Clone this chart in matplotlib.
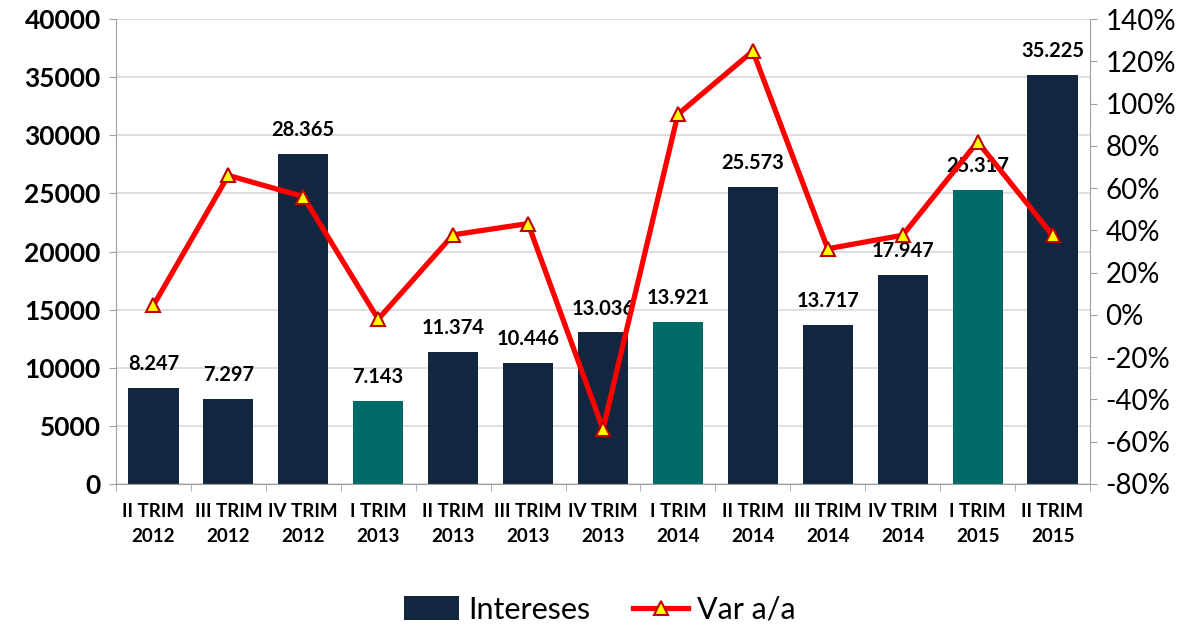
import numpy as np
import matplotlib
matplotlib.use("Agg")
import matplotlib.pyplot as plt
from matplotlib.ticker import FuncFormatter

plt.rcParams["font.family"] = ["Lato", "DejaVu Sans"]

# data
categories = ["II TRIM\n2012", "III TRIM\n2012", "IV TRIM\n2012", "I TRIM\n2013",
              "II TRIM\n2013", "III TRIM\n2013", "IV TRIM\n2013", "I TRIM\n2014",
              "II TRIM\n2014", "III TRIM\n2014", "IV TRIM\n2014", "I TRIM\n2015",
              "II TRIM\n2015"]
intereses = [8247, 7297, 28365, 7143, 11374, 10446, 13036, 13921, 25573, 13717, 17947, 25317, 35225]
bar_labels = ["8.247", "7.297", "28.365", "7.143", "11.374", "10.446", "13.036", "13.921",
              "25.573", "13.717", "17.947", "25.317", "35.225"]
var_aa = [4.5, 66, 56, -2, 37.9, 43.2, -54.0, 94.9, 124.8, 31.3, 37.7, 81.9, 37.7]

NAVY = "#13263f"
TEAL = "#006a66"
colors = [TEAL if c.startswith("I TRIM") else NAVY for c in categories]

fig = plt.figure(figsize=(11.88, 6.25), dpi=100)
ax = fig.add_axes([0.0976, 0.2256, 0.8199, 0.744])
x = np.arange(len(categories))

bars = ax.bar(x, intereses, width=0.67, color=colors, zorder=2, label="Intereses")
ax.set_ylim(0, 40000)
ax.set_xlim(-0.5, len(categories) - 0.5)
ax.set_yticks(np.arange(0, 40001, 5000))
ax.yaxis.grid(True, color="#d9d9d9", linewidth=1.2, zorder=0)
ax.set_axisbelow(True)
ax.set_xticks(x)
ax.set_xticks(np.arange(-0.5, len(categories), 1), minor=True)
ax.set_xticklabels(categories, fontsize=13.5, fontweight="bold", linespacing=1.55)
ax.tick_params(axis="x", which="major", length=0, pad=14)
ax.tick_params(axis="x", which="minor", length=5, color="#a0a0a0")
ax.tick_params(axis="y", labelsize=19, length=5, color="#a0a0a0", pad=6)
for lbl in ax.get_yticklabels():
    lbl.set_fontweight("bold")
for side in ["top", "right"]:
    ax.spines[side].set_visible(False)
ax.spines["left"].set_color("#a0a0a0")
ax.spines["bottom"].set_color("#a0a0a0")

for xi, h, t in zip(x, intereses, bar_labels):
    ax.text(xi, h + 1200, t, ha="center", va="bottom", fontsize=14.5, fontweight="bold", zorder=5)

ax2 = ax.twinx()
ax2.set_ylim(-80, 140)
ax2.set_yticks(np.arange(-80, 141, 20))
ax2.yaxis.set_major_formatter(FuncFormatter(lambda v, p: f"{int(v)}%"))
ax2.tick_params(axis="y", labelsize=20, length=5, color="#a0a0a0", pad=6)
for side in ["top", "left", "bottom"]:
    ax2.spines[side].set_visible(False)
ax2.spines["right"].set_color("#a0a0a0")
line, = ax2.plot(x, var_aa, color="#ff0000", linewidth=3.8, marker="^", markersize=10,
                 markerfacecolor="#ffff00", markeredgecolor="#c00000", markeredgewidth=1.5,
                 zorder=4, label="Var a/a")

fig.legend(handles=[bars, line], labels=["Intereses", "Var a/a"], loc="lower center",
           bbox_to_anchor=(0.505, -0.042), ncol=2, frameon=False, fontsize=22,
           handlelength=1.8, handletextpad=0.3, columnspacing=1.4, handleheight=0.8)

fig.savefig("out.png", dpi=100)
